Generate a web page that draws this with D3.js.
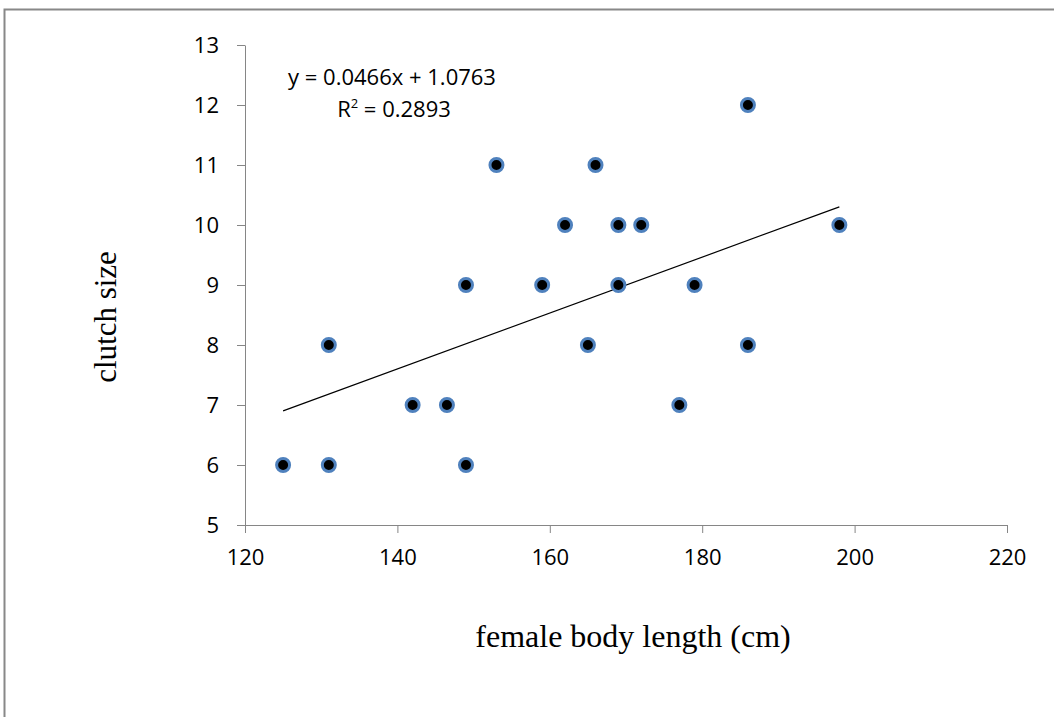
<!DOCTYPE html>
<html>
<head>
<meta charset="utf-8">
<script src="https://cdn.jsdelivr.net/npm/d3@7"></script>
<style>
  body { margin: 0; background: #fff; }
  svg text { fill: #000; }
</style>
</head>
<body>
<div id="vis"></div>
<script>
// female body length (cm) and clutch size
let bodyLength = [125, 131, 131, 142, 146.5, 149, 149, 153, 159, 162, 165, 166, 169, 169, 172, 177, 179, 186, 186, 198]
let clutchSize = [6, 6, 8, 7, 7, 6, 9, 11, 9, 10, 8, 11, 10, 9, 10, 7, 9, 12, 8, 10]
let xTicks = [120, 140, 160, 180, 200, 220]
let yTicks = [5, 6, 7, 8, 9, 10, 11, 12, 13]
let slope = 0.0466, intercept = 1.0763, r2 = 0.2893

let width = 1054, height = 717
let sans = "Open Sans, Liberation Sans, Arial, sans-serif"
let serif = "Liberation Serif, Times New Roman, serif"

let svg = d3.select("#vis")
  .append("svg")
  .attr("width", width)
  .attr("height", height)

// outer chart frame (only top/left visible)
svg.append("rect")
  .attr("x", 4.5).attr("y", 9.5)
  .attr("width", 1100).attr("height", 800)
  .attr("fill", "none")
  .attr("stroke", "#888")
  .attr("stroke-width", 2)

let xScale = d3.scaleLinear().domain([120, 220]).range([245, 1007])
let yScale = d3.scaleLinear().domain([5, 13]).range([525, 45])

let xAxis = svg.append("g")
  .attr("transform", `translate(0,${yScale(5)})`)
  .call(d3.axisBottom(xScale).tickValues(xTicks).tickSizeInner(8).tickSizeOuter(0).tickPadding(16))

let yAxis = svg.append("g")
  .attr("transform", `translate(${xScale(120)},0)`)
  .call(d3.axisLeft(yScale).tickValues(yTicks).tickSizeInner(8).tickSizeOuter(0).tickPadding(18))

svg.selectAll(".domain, .tick line").attr("stroke", "#868686")
svg.selectAll(".tick text")
  .attr("font-family", sans)
  .attr("font-size", "22px")
  .attr("fill", "#000")

// trend line across data range
let xr = d3.extent(bodyLength)
svg.append("line")
  .attr("x1", xScale(xr[0])).attr("y1", yScale(slope * xr[0] + intercept))
  .attr("x2", xScale(xr[1])).attr("y2", yScale(slope * xr[1] + intercept))
  .attr("stroke", "#000")
  .attr("stroke-width", 1.2)

svg.selectAll(".pt")
  .data(bodyLength.map((d, i) => [d, clutchSize[i]]))
  .join("circle")
  .attr("class", "pt")
  .attr("cx", d => xScale(d[0]))
  .attr("cy", d => yScale(d[1]))
  .attr("r", 6.5)
  .attr("fill", "#000")
  .attr("stroke", "#4f81bd")
  .attr("stroke-width", 3)

// equation label
svg.append("text")
  .attr("x", 392).attr("y", 85)
  .attr("text-anchor", "middle")
  .attr("font-family", sans)
  .attr("font-size", "22px")
  .text(`y = ${slope}x + ${intercept}`)

let r2t = svg.append("text")
  .attr("x", 394).attr("y", 117)
  .attr("text-anchor", "middle")
  .attr("font-family", sans)
  .attr("font-size", "22px")
r2t.append("tspan").text("R")
r2t.append("tspan").attr("font-size", "13px").attr("dy", -9).text("2")
r2t.append("tspan").attr("dy", 9).text(` = ${r2}`)

// axis titles
svg.append("text")
  .attr("x", 633).attr("y", 647)
  .attr("text-anchor", "middle")
  .attr("font-family", serif)
  .attr("font-size", "32px")
  .text("female body length (cm)")

svg.append("text")
  .attr("transform", "translate(116,317) rotate(-90)")
  .attr("text-anchor", "middle")
  .attr("font-family", serif)
  .attr("font-size", "31px")
  .text("clutch size")
</script>
</body>
</html>
